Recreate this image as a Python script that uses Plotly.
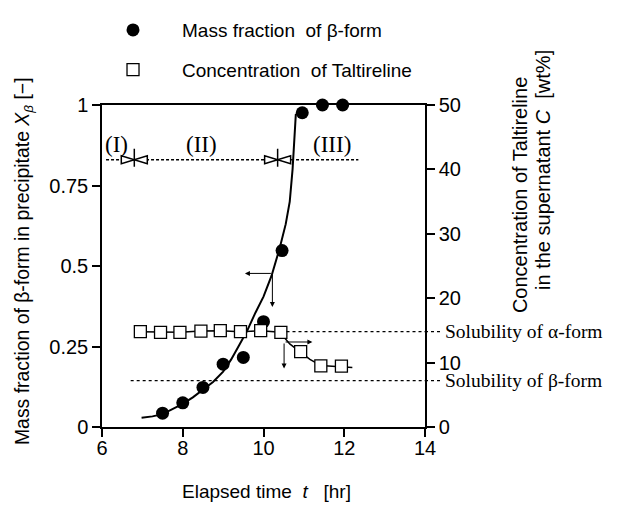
import plotly.graph_objects as go

# ---- data ----
t_beta = [7.5, 8.0, 8.5, 9.0, 9.5, 10.0, 10.46, 10.96, 11.46, 11.96]
x_beta = [0.043, 0.075, 0.123, 0.195, 0.216, 0.327, 0.548, 0.976, 1.0, 1.0]

t_conc = [6.95, 7.45, 7.93, 8.45, 8.93, 9.43, 9.93, 10.43, 10.92, 11.42, 11.93]
conc = [14.8, 14.7, 14.7, 14.9, 14.95, 14.8, 14.95, 14.7, 11.7, 9.5, 9.45]

fit_t = [6.98, 7.25, 7.5, 7.75, 8.0, 8.25, 8.5, 8.75, 9.0, 9.2, 9.4, 9.6, 9.8,
         10.0, 10.2, 10.4, 10.55, 10.65, 10.72, 10.77, 10.8, 10.95]
fit_x = [0.029, 0.033, 0.04, 0.055, 0.072, 0.092, 0.115, 0.14, 0.172, 0.21, 0.255,
         0.30, 0.355, 0.405, 0.47, 0.555, 0.63, 0.70, 0.80, 0.90, 0.97, 0.978]

cfit_t = [6.95, 7.45, 7.93, 8.45, 8.93, 9.43, 9.93, 10.43, 10.5, 10.65, 10.8,
          10.92, 11.15, 11.38, 11.42, 11.7, 11.93, 12.2]
cfit_c = [14.8, 14.7, 14.7, 14.9, 14.95, 14.8, 14.95, 14.7, 14.0, 12.9, 12.2,
          11.7, 10.5, 9.7, 9.55, 9.45, 9.4, 9.25]

x_ticks = [6, 8, 10, 12, 14]
y_ticks = [0, 0.25, 0.5, 0.75, 1]
y_tick_text = ["0", "0.25", "0.5", "0.75", "1"]
y2_ticks = [0, 10, 20, 30, 40, 50]

region_labels = ["(I)", "(II)", "(III)"]
region_label_t = [6.36, 8.47, 11.69]
region_label_y = 0.878
region_level = 0.83
region_line_t = [6.1, 12.35]
boundary_t = [6.8, 10.35]

solubility_names = ["Solubility of α-form", "Solubility of β-form"]
solubility_c = [14.8, 7.2]
solubility_start_t = [10.57, 6.71]

# arrows: (tail_t, tail_y, head_t, head_y)
arrows_left = [(10.22, 0.477, 9.54, 0.477), (10.22, 0.477, 10.22, 0.373)]
arrows_right = [(10.51, 13.2, 11.21, 13.2), (10.51, 13.2, 10.51, 9.1)]

x_title = "Elapsed time\u00a0\u00a0<i>t</i>\u00a0\u00a0\u00a0[hr]"
y_title = "Mass fraction of β-form in precipitate <i>X</i><sub><i>β</i></sub> [−]"
y2_title_lines = ["Concentration of Taltireline", "in the supernatant <i>C</i>\u00a0\u00a0[wt%]"]

SANS = "Liberation Sans, Arial, sans-serif"
SERIF = "Liberation Serif, Times New Roman, serif"

fig = go.Figure()

fig.add_trace(go.Scatter(x=fit_t, y=fit_x, mode="lines", line=dict(color="black", width=2),
                         showlegend=False, hoverinfo="skip"))
fig.add_trace(go.Scatter(x=cfit_t, y=cfit_c, mode="lines", yaxis="y2",
                         line=dict(color="black", width=1.5), showlegend=False, hoverinfo="skip"))
fig.add_trace(go.Scatter(x=t_beta, y=x_beta, mode="markers", name="Mass fraction\u00a0\u00a0of β-form",
                         marker=dict(symbol="circle", size=13, color="black"), cliponaxis=False,
                         legendgroup="a"))
fig.add_trace(go.Scatter(x=t_conc, y=conc, mode="markers", yaxis="y2",
                         name="Concentration\u00a0\u00a0of Taltireline",
                         marker=dict(symbol="square", size=12, color="white",
                                     line=dict(color="black", width=1.3)),
                         cliponaxis=False, legendgroup="b"))

shapes = []
shapes.append(dict(type="line", xref="x", yref="y", x0=region_line_t[0], x1=region_line_t[1],
                   y0=region_level, y1=region_level, line=dict(color="black", width=1.5, dash="3px,2px")))
for bt in boundary_t:
    shapes.append(dict(type="path", xref="x", yref="y", xsizemode="pixel", ysizemode="pixel",
                       xanchor=bt, yanchor=region_level,
                       path="M -13 -4 L -13 4 L 13 -4 L 13 4 Z", fillcolor="white",
                       line=dict(color="black", width=1.5)))
    shapes.append(dict(type="path", xref="x", yref="y", xsizemode="pixel", ysizemode="pixel",
                       xanchor=bt, yanchor=region_level,
                       path="M 0 -7 L 0 11", line=dict(color="black", width=1.5)))
for c, t0 in zip(solubility_c, solubility_start_t):
    shapes.append(dict(type="line", xref="x", yref="y2", x0=t0, x1=14, y0=c, y1=c,
                       line=dict(color="black", width=1.2, dash="dot")))
    shapes.append(dict(type="line", xref="x domain", yref="y2", x0=1, x1=1.05, y0=c, y1=c,
                       line=dict(color="black", width=1.2, dash="dot")))

annotations = []
for lab, t in zip(region_labels, region_label_t):
    annotations.append(dict(x=t, y=region_label_y, xref="x", yref="y", text=lab, showarrow=False,
                            font=dict(family=SERIF, size=23, color="black")))
for name, c in zip(solubility_names, solubility_c):
    annotations.append(dict(x=1.056, y=c, xref="x domain", yref="y2", text=name, showarrow=False,
                            xanchor="left", yanchor="middle",
                            font=dict(family=SERIF, size=19.5, color="black")))
for (t0, y0, t1, y1) in arrows_left:
    annotations.append(dict(x=t1, y=y1, ax=t0, ay=y0, xref="x", yref="y", axref="x", ayref="y",
                            text="", showarrow=True, arrowhead=2, arrowsize=1, arrowwidth=1,
                            arrowcolor="black", standoff=0, startstandoff=0))
for (t0, y0, t1, y1) in arrows_right:
    annotations.append(dict(x=t1, y=y1, ax=t0, ay=y0, xref="x", yref="y2", axref="x", ayref="y2",
                            text="", showarrow=True, arrowhead=2, arrowsize=1, arrowwidth=1,
                            arrowcolor="black", standoff=0, startstandoff=0))
# axis titles
annotations.append(dict(x=1.294, y=0.72, xref="paper", yref="paper", text=y2_title_lines[0],
                        textangle=-90, showarrow=False, xanchor="center", yanchor="middle",
                        font=dict(family=SANS, size=20, color="black")))
annotations.append(dict(x=1.365, y=0.798, xref="paper", yref="paper", text=y2_title_lines[1],
                        textangle=-90, showarrow=False, xanchor="center", yanchor="middle",
                        font=dict(family=SANS, size=20, color="black")))
annotations.append(dict(x=-0.245, y=0.515, xref="paper", yref="paper", text=y_title,
                        textangle=-90, showarrow=False, xanchor="center", yanchor="middle",
                        font=dict(family=SANS, size=19.4, color="black")))
annotations.append(dict(x=0.509, y=-0.199, xref="paper", yref="paper", text=x_title,
                        showarrow=False, xanchor="center", yanchor="middle",
                        font=dict(family=SANS, size=19, color="black")))

axis_common = dict(showgrid=False, zeroline=False, showline=True, linecolor="black", linewidth=1.5,
                   ticks="outside", ticklen=8, tickwidth=1.5, tickcolor="black", automargin=False,
                   tickfont=dict(family=SANS, size=20, color="black"))

fig.update_layout(
    width=621, height=507,
    margin=dict(l=94, r=204, t=97, b=88, autoexpand=False),
    paper_bgcolor="white", plot_bgcolor="white",
    xaxis=dict(range=[6, 14], tickvals=x_ticks, mirror=True, **axis_common),
    yaxis=dict(range=[0, 1], tickvals=y_ticks, ticktext=y_tick_text, **axis_common),
    yaxis2=dict(range=[0, 50], tickvals=y2_ticks, overlaying="y", side="right", **axis_common),
    shapes=shapes,
    annotations=annotations,
    showlegend=True,
    legend=dict(xref="container", yref="container", x=0.1224, y=0.994, xanchor="left", yanchor="top",
                bgcolor="rgba(0,0,0,0)", itemwidth=88, tracegroupgap=12, traceorder="grouped",
                font=dict(family=SANS, size=19, color="black")),
)

try:
    fig.update_xaxes(ticklabelstandoff=-6)
except Exception:
    pass

fig.write_html("out.html")
